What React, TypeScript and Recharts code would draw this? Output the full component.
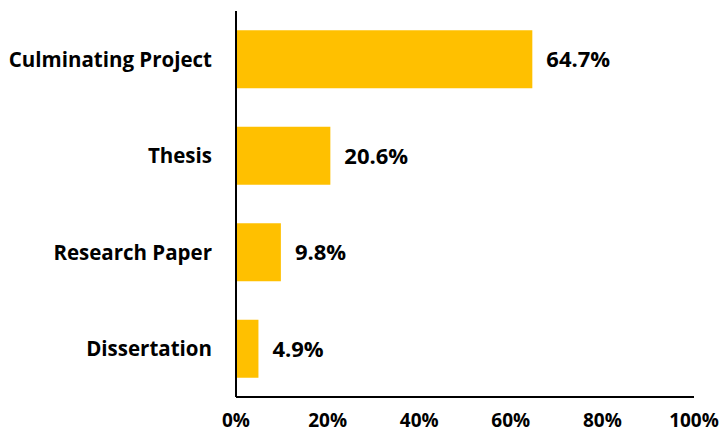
import { BarChart, Bar, XAxis, YAxis, LabelList } from 'recharts';

const categories = ['Culminating Project', 'Thesis', 'Research Paper', 'Dissertation'];
const shares = [64.7, 20.6, 9.8, 4.9];
const xTicks = [0, 20, 40, 60, 80, 100];

const data = categories.map((name, i) => ({ name, value: shares[i] }));

const font = '"Open Sans", sans-serif';

export default function App() {
  return (
    <div style={{ position: 'absolute', left: 0, top: 0, background: '#fff' }}>
      <BarChart
        width={722}
        height={435}
        data={data}
        layout="vertical"
        margin={{ top: 11, right: 28, bottom: 8, left: 0 }}
        barCategoryGap="20%"
      >
        <XAxis
          type="number"
          domain={[0, 100]}
          ticks={xTicks}
          tickFormatter={(v) => `${v}%`}
          axisLine={{ stroke: '#000', strokeWidth: 2 }}
          tickLine={false}
          tickMargin={11}
          height={30}
          tick={{ fill: '#000', fontSize: 19, fontWeight: 700, fontFamily: font }}
          interval={0}
        />
        <YAxis
          type="category"
          dataKey="name"
          width={236}
          axisLine={{ stroke: '#000', strokeWidth: 2 }}
          tickLine={false}
          tickMargin={18}
          tick={{ fill: '#000', fontSize: 20.5, fontWeight: 700, fontFamily: font }}
        />
        <Bar dataKey="value" fill="#FFC000" isAnimationActive={false}>
          <LabelList
            dataKey="value"
            position="right"
            offset={14}
            formatter={(v: number) => `${v}%`}
            style={{ fill: '#000', fontSize: 22, fontWeight: 700, fontFamily: font }}
          />
        </Bar>
      </BarChart>
    </div>
  );
}
